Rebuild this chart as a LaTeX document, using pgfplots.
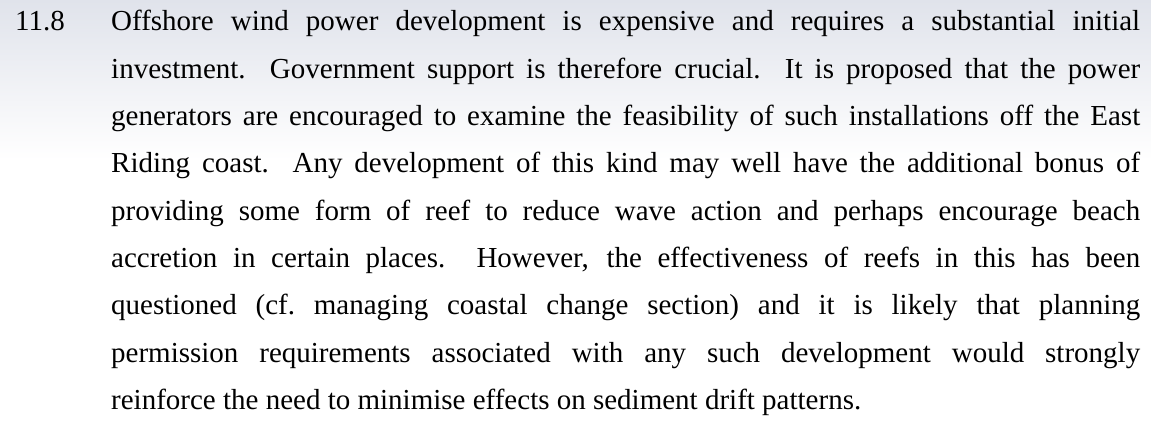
\documentclass[border=0pt]{standalone}
\usepackage{fontspec}
\setmainfont{Liberation Serif}
\usepackage{pgfplots}
\pgfplotsset{compat=1.18}
\tikzset{para/.style={anchor=base west, inner sep=0, font=\fontsize{29bp}{47.3bp}\selectfont}}
\begin{document}
\begin{tikzpicture}
\begin{axis}[
  width=1151bp, height=423bp, scale only axis,
  xmin=0, xmax=1151, ymin=0, ymax=423, y dir=reverse,
  axis lines=none, clip=false,
]
\fill[white] (axis cs:0,0) rectangle (axis cs:1151,423);
\shade[top color={rgb,255:red,224;green,227;blue,235}, middle color={rgb,255:red,242;green,243;blue,247}, bottom color=white] (axis cs:0,0) rectangle (axis cs:1151,160);
\node[para] at (axis cs:15,31) {11.8};
\node[para] at (axis cs:111,31) {\makebox[1029bp][s]{Offshore wind power development is expensive and requires a substantial initial}};
\node[para] at (axis cs:111,78.3) {\makebox[1029bp][s]{investment.\ \ Government support is therefore crucial.\ \ It is proposed that the power}};
\node[para] at (axis cs:111,125.6) {\makebox[1029bp][s]{generators are encouraged to examine the feasibility of such installations off the East}};
\node[para] at (axis cs:111,172.9) {\makebox[1029bp][s]{Riding coast.\ \ Any development of this kind may well have the additional bonus of}};
\node[para] at (axis cs:111,220.2) {\makebox[1029bp][s]{providing some form of reef to reduce wave action and perhaps encourage beach}};
\node[para] at (axis cs:111,267.5) {\makebox[1029bp][s]{accretion in certain places.\ \ However, the effectiveness of reefs in this has been}};
\node[para] at (axis cs:111,314.8) {\makebox[1029bp][s]{questioned (cf.\ managing coastal change section) and it is likely that planning}};
\node[para] at (axis cs:111,362.1) {\makebox[1029bp][s]{permission requirements associated with any such development would strongly}};
\node[para] at (axis cs:111,409.4) {reinforce the need to minimise effects on sediment drift patterns.};
\end{axis}
\end{tikzpicture}
\end{document}
